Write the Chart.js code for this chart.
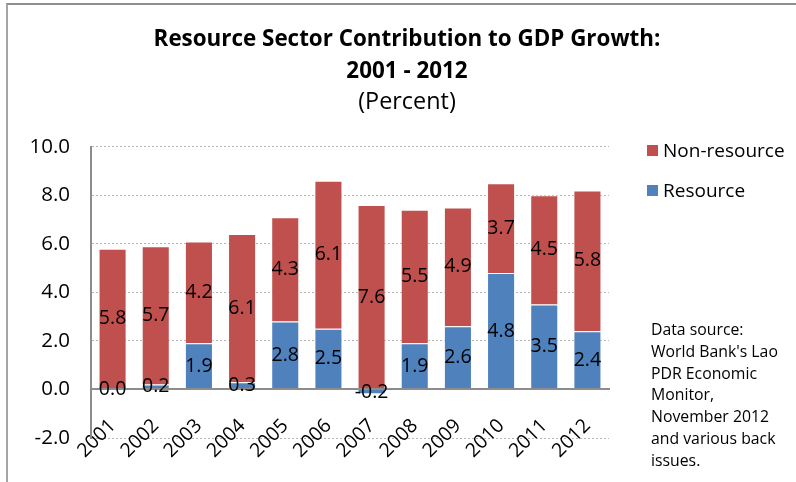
<!DOCTYPE html>
<html>
<head>
<meta charset="utf-8">
<title>Resource Sector Contribution to GDP Growth</title>
<script src="https://cdn.jsdelivr.net/npm/chart.js@4.4.0/dist/chart.umd.min.js"></script>
<style>
    html, body { margin: 0; padding: 0; background: #fff; }
    #wrap { position: relative; width: 796px; height: 482px; overflow: hidden; font-family: 'Open Sans', sans-serif; color: #000; }
    #frame { position: absolute; left: 6px; top: 3px; right: 0; bottom: 0; border-top: 2px solid #8f8f8f; border-left: 2px solid #a5a5a5; pointer-events: none; }
    #chart { position: absolute; left: 0; top: 0; }
    #legend { position: absolute; left: 647px; top: 139px; font-size: 19px; }
    .legend-item { display: flex; align-items: center; height: 22px; margin-bottom: 18px; }
    .legend-box { width: 11px; height: 11px; margin-right: 5px; }
    #note { position: absolute; left: 651px; top: 319px; font-size: 15.8px; line-height: 21.8px; }
</style>
</head>
<body>
<div id="wrap">
    <canvas id="chart" width="796" height="482"></canvas>
    <div id="legend"></div>
    <div id="note">Data source:<br>World Bank's Lao<br>PDR Economic<br>Monitor,<br>November 2012<br>and various back<br>issues.</div>
    <div id="frame"></div>
</div>
<script>
// Contribution to GDP growth, percentage points
const years = ['2001', '2002', '2003', '2004', '2005', '2006', '2007', '2008', '2009', '2010', '2011', '2012'];
const resource = [0.0, 0.2, 1.9, 0.3, 2.8, 2.5, -0.2, 1.9, 2.6, 4.8, 3.5, 2.4];
const nonResource = [5.8, 5.7, 4.2, 6.1, 4.3, 6.1, 7.6, 5.5, 4.9, 3.7, 4.5, 5.8];
const yTicks = [-2, 0, 2, 4, 6, 8, 10];

const FONT = "'Open Sans', sans-serif";

// writes each segment's value in the middle of its bar piece,
// after everything else so the zero line doesn't cover the small ones
const barValueLabels = {
    id: 'barValueLabels',
    afterDraw(chart) {
        const ctx = chart.ctx;
        ctx.save();
        ctx.font = '19.5px ' + FONT;
        ctx.fillStyle = '#000';
        ctx.textAlign = 'center';
        ctx.textBaseline = 'middle';
        chart.data.datasets.forEach((ds, i) => {
            chart.getDatasetMeta(i).data.forEach((bar, j) => {
                const { x, y, base } = bar.getProps(['x', 'y', 'base'], true);
                ctx.fillText(ds.data[j].toFixed(1), x, (y + base) / 2);
            });
        });
        ctx.restore();
    }
};

const chart = new Chart(document.getElementById('chart'), {
    type: 'bar',
    data: {
        labels: years,
        datasets: [
            {
                label: 'Resource',
                data: resource,
                backgroundColor: '#4F81BD',
                borderColor: 'rgba(255,255,255,0.55)',
                borderWidth: 1
            },
            {
                label: 'Non-resource',
                data: nonResource,
                backgroundColor: '#C0504D',
                borderColor: 'rgba(255,255,255,0.55)',
                borderWidth: 1
            }
        ]
    },
    options: {
        responsive: false,
        animation: false,
        layout: { padding: { left: 18, right: 0, top: 0, bottom: 44 } },
        datasets: { bar: { categoryPercentage: 1, barPercentage: 0.65 } },
        plugins: {
            legend: { display: false },
            tooltip: { enabled: false },
            title: {
                display: true,
                text: ['Resource Sector Contribution to GDP Growth:', '2001 - 2012'],
                color: '#000',
                font: { family: FONT, size: 22.4, weight: 'bold', lineHeight: 32 / 22.4 },
                padding: { top: 24, bottom: 0 }
            },
            subtitle: {
                display: true,
                text: '(Percent)',
                color: '#000',
                font: { family: FONT, size: 23.4, weight: 'normal', lineHeight: 1.1 },
                padding: { top: 1, bottom: 32 }
            }
        },
        scales: {
            x: {
                stacked: true,
                position: { y: 0 },
                grid: { display: false, drawTicks: false },
                border: { color: '#8c8c8c', width: 2, z: 1 },
                ticks: {
                    minRotation: 45,
                    maxRotation: 45,
                    padding: 25,
                    color: '#000',
                    font: { family: FONT, size: 19.5 }
                }
            },
            y: {
                stacked: true,
                min: yTicks[0],
                max: yTicks[yTicks.length - 1],
                afterBuildTicks: (scale) => { scale.ticks = yTicks.map(v => ({ value: v })); },
                ticks: {
                    padding: 21,
                    color: '#000',
                    font: { family: FONT, size: 20.5 },
                    callback: (v) => Number(v).toFixed(1)
                },
                grid: { color: '#b4b4b4', drawTicks: false },
                border: { color: '#8c8c8c', width: 2, dash: [2, 2] },
                afterFit: (scale) => { scale.width = 73; }
            },
            // empty right-hand gutter that holds the legend and source note
            gutter: {
                type: 'linear',
                position: 'right',
                grid: { display: false },
                border: { display: false },
                ticks: { display: false },
                afterFit: (scale) => { scale.width = 187; }
            }
        }
    },
    plugins: [barValueLabels]
});

// legend, top entry is the upper stack segment
const legendEl = document.getElementById('legend');
chart.data.datasets.slice().reverse().forEach(ds => {
    const item = document.createElement('div');
    item.className = 'legend-item';
    item.innerHTML = `<span class="legend-box" style="background:${ds.backgroundColor}"></span><span>${ds.label}</span>`;
    legendEl.appendChild(item);
});
</script>
</body>
</html>
